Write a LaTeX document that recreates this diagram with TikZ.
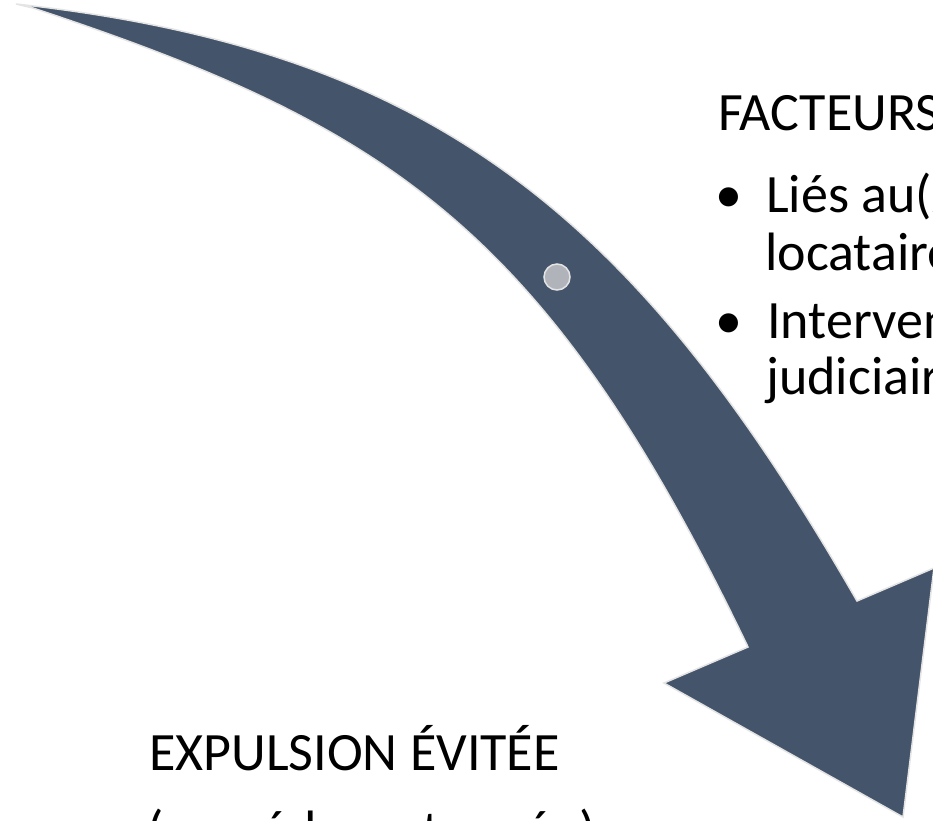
\documentclass[tikz,border=0pt]{standalone}
\usepackage{fontspec}
\setmainfont{Carlito}
\definecolor{arrowfill}{HTML}{44546A}
\definecolor{arrowline}{HTML}{E4E4E4}
\definecolor{dotfill}{HTML}{B0B3BA}
\tikzset{
  bigarrow/.style={fill=arrowfill, draw=arrowline, line width=1.5pt, line join=miter},
  dotmark/.style={circle, fill=dotfill, draw=arrowline, line width=1.5pt, minimum size=26pt, inner sep=0pt},
  bigtext/.style={inner sep=0pt, anchor=base west, font=\fontsize{54}{54}\selectfont},
  bullettext/.style={inner sep=0pt, anchor=base, font=\fontsize{54}{54}\selectfont}
}
\begin{document}
\begin{tikzpicture}[x=1pt,y=-1pt]
\useasboundingbox (0,0) rectangle (933,820);
\clip (0,0) rectangle (933,820);
\fill[white] (0,0) rectangle (933,820);
% curved arrow
\draw[bigarrow]
  (16,4) .. controls (436,50) and (637,218) .. (857,601)
  -- (934,568) -- (903,817) -- (664,683) -- (748,647)
  .. controls (548,231) and (393,127) .. (33,8)
  -- cycle;
\node[dotmark] (dot) at (557,277) {};
% texts
\node[bigtext] (title) at (718,130) {FACTEURS};
\node[bullettext] (b1) at (729,212) {•};
\node[bigtext] (l1a) at (766,212) {Liés au(x)};
\node[bigtext] (l1b) at (765,270) {locataire};
\node[bullettext] (b2) at (729,338) {•};
\node[bigtext] (l2a) at (767,338) {Intervention};
\node[bigtext] (l2b) at (766,394) {judiciaire};
\node[bigtext] (res1) at (149,770) {EXPULSION ÉVITÉE};
\node[bigtext] (res2) at (147,848) {(procédure stoppée)};
\end{tikzpicture}
\end{document}
